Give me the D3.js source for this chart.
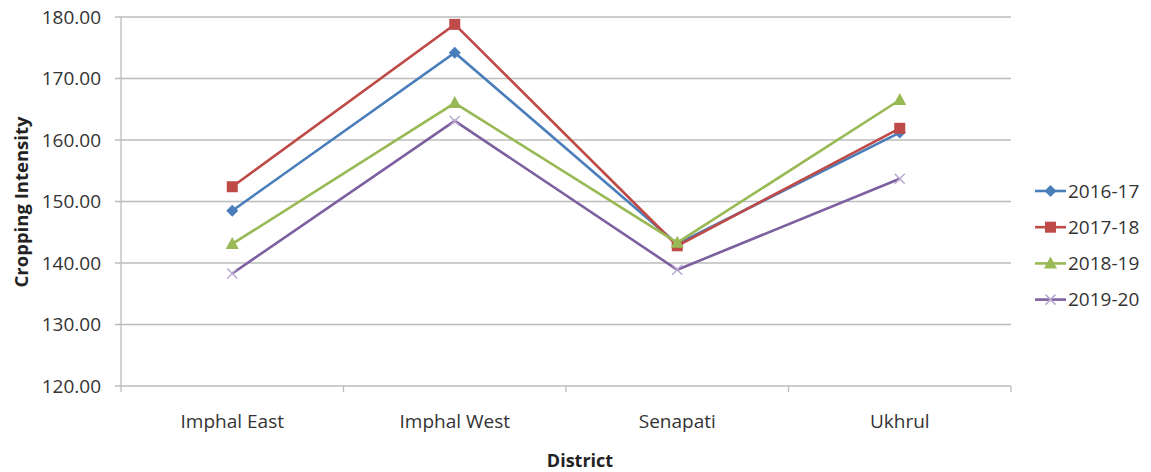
<!DOCTYPE html>
<html><head><meta charset="utf-8">
<script src="https://cdn.jsdelivr.net/npm/d3@7"></script>
<style>body{margin:0;background:#fff;} text{font-family:"Open Sans","Noto Sans",sans-serif;}</style>
</head><body>
<svg id="c" width="1151" height="472"></svg>
<script>
const categories = ["Imphal East", "Imphal West", "Senapati", "Ukhrul"];
const seriesNames = ["2016-17", "2017-18", "2018-19", "2019-20"];
const s2016 = [148.5, 174.2, 143.1, 161.2];
const s2017 = [152.4, 178.8, 142.8, 161.9];
const s2018 = [143.1, 166.0, 143.3, 166.5];
const s2019 = [138.3, 163.1, 138.9, 153.7];
const yTicks = [120, 130, 140, 150, 160, 170, 180];
const colors = ["#4A7EBB", "#BE4B48", "#98B954", "#7D60A0"];
const markers = ["diamond", "square", "triangle", "x"];
const allSeries = [s2016, s2017, s2018, s2019];

const svg = d3.select("#c");
const L = 121, R = 1011, T = 17, B = 386;
const x = d3.scaleBand().domain(categories).range([L, R]);
const y = d3.scaleLinear().domain([120, 180]).range([B, T]);

svg.append("g").selectAll("line").data(yTicks).join("line")
  .attr("x1", L - 6).attr("x2", R).attr("y1", d => y(d)).attr("y2", d => y(d))
  .attr("stroke", "#bcbcbc").attr("stroke-width", 1.3);
svg.append("line").attr("x1", L).attr("x2", L).attr("y1", T).attr("y2", B)
  .attr("stroke", "#bcbcbc").attr("stroke-width", 1.3);
const xt = categories.map(c => x(c)).concat([R]);
svg.append("g").selectAll("line").data(xt).join("line")
  .attr("x1", d => d).attr("x2", d => d).attr("y1", B).attr("y2", B + 6)
  .attr("stroke", "#bcbcbc").attr("stroke-width", 1.3);

svg.append("g").selectAll("text").data(yTicks).join("text")
  .attr("x", L - 20).attr("y", d => y(d)).attr("dy", "0.35em")
  .attr("text-anchor", "end").attr("font-size", 19).attr("fill", "#333")
  .text(d => d.toFixed(2));
svg.append("g").selectAll("text").data(categories).join("text")
  .attr("x", d => x(d) + x.bandwidth() / 2).attr("y", 428)
  .attr("text-anchor", "middle").attr("font-size", 19).attr("fill", "#333")
  .text(d => d);
svg.append("text").attr("x", 580).attr("y", 467).attr("text-anchor", "middle")
  .attr("font-size", 18).attr("font-weight", "bold").attr("fill", "#222").text("District");
svg.append("text").attr("transform", "translate(28,202) rotate(-90)").attr("text-anchor", "middle")
  .attr("font-size", 18.5).attr("font-weight", "bold").attr("fill", "#222").text("Cropping Intensity");

function drawMarker(g, type, cx, cy, col) {
  if (type === "diamond") {
    g.append("path").attr("d", `M${cx},${cy-6}L${cx+6},${cy}L${cx},${cy+6}L${cx-6},${cy}Z`).attr("fill", col);
  } else if (type === "square") {
    g.append("rect").attr("x", cx - 5.5).attr("y", cy - 5.5).attr("width", 11).attr("height", 11).attr("fill", col);
  } else if (type === "triangle") {
    g.append("path").attr("d", `M${cx},${cy-7}L${cx+6.5},${cy+5}L${cx-6.5},${cy+5}Z`).attr("fill", col);
  } else {
    g.append("path").attr("d", `M${cx-5},${cy-5}L${cx+5},${cy+5}M${cx-5},${cy+5}L${cx+5},${cy-5}`)
      .attr("stroke", "#b9a9cf").attr("stroke-width", 1.5);
  }
}

const line = d3.line().x((d, i) => x(categories[i]) + x.bandwidth() / 2).y(d => y(d));
allSeries.forEach((s, k) => {
  const g = svg.append("g");
  g.append("path").datum(s).attr("d", line).attr("fill", "none")
    .attr("stroke", colors[k]).attr("stroke-width", 2.6);
  s.forEach((v, i) => drawMarker(g, markers[k], x(categories[i]) + x.bandwidth() / 2, y(v), colors[k]));
});

const lg = svg.append("g");
seriesNames.forEach((n, k) => {
  const yy = 191 + k * 36.2;
  lg.append("line").attr("x1", 1035).attr("x2", 1066).attr("y1", yy).attr("y2", yy)
    .attr("stroke", colors[k]).attr("stroke-width", 2.6);
  drawMarker(lg, markers[k], 1050.5, yy, colors[k]);
  lg.append("text").attr("x", 1068).attr("y", yy).attr("dy", "0.35em")
    .attr("font-size", 19).attr("fill", "#333").text(n);
});
</script>
</body></html>
